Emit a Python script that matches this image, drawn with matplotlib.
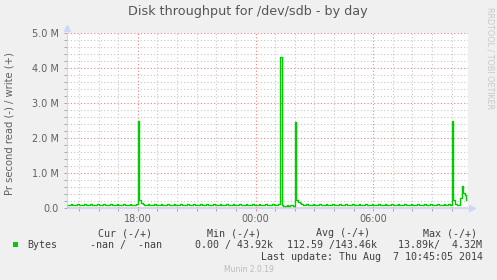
import matplotlib
matplotlib.use("Agg")
import matplotlib.pyplot as plt
import numpy as np

# munin "disk throughput" day graph, 5 minute samples from 14:25 to 10:45
start_hour = -9.5 - 5.0 / 60   # 14:25 the day before, hours relative to midnight
step_hour = 5.0 / 60

# write bytes per second, in millions (one row = one hour)
write_mb = [
    0.09, 0.09, 0.12, 0.09, 0.09, 0.09, 0.12, 0.09, 0.09, 0.08, 0.12, 0.09,   # 14:25
    0.09, 0.09, 0.12, 0.09, 0.09, 0.09, 0.12, 0.09, 0.09, 0.09, 0.12, 0.09,   # 15:25
    0.08, 0.09, 0.12, 0.09, 0.09, 0.09, 0.12, 0.09, 0.08, 0.09, 0.12, 0.09,   # 16:25
    0.09, 0.09, 0.12, 0.09, 0.09, 0.09, 0.12, 2.50, 0.24, 0.14, 0.12, 0.09,   # 17:25
    0.09, 0.12, 0.09, 0.09, 0.09, 0.12, 0.09, 0.09, 0.09, 0.12, 0.09, 0.09,   # 18:25
    0.08, 0.12, 0.09, 0.09, 0.09, 0.12, 0.09, 0.09, 0.09, 0.12, 0.09, 0.08,   # 19:25
    0.09, 0.12, 0.09, 0.09, 0.09, 0.12, 0.09, 0.09, 0.09, 0.12, 0.09, 0.09,   # 20:25
    0.09, 0.12, 0.09, 0.09, 0.08, 0.12, 0.09, 0.09, 0.09, 0.12, 0.09, 0.09,   # 21:25
    0.09, 0.12, 0.09, 0.09, 0.09, 0.12, 0.09, 0.08, 0.09, 0.12, 0.09, 0.09,   # 22:25
    0.09, 0.12, 0.09, 0.09, 0.09, 0.12, 0.09, 0.09, 0.09, 0.12, 0.09, 0.09,   # 23:25
    0.09, 0.12, 0.09, 0.09, 0.09, 0.12, 0.09, 0.09, 0.09, 0.12, 4.32, 0.08,   # 00:25
    0.05, 0.06, 0.09, 0.06, 0.08, 0.10, 0.07, 2.46, 0.23, 0.17, 0.13, 0.12,   # 01:25
    0.09, 0.09, 0.12, 0.09, 0.09, 0.09, 0.12, 0.09, 0.09, 0.09, 0.12, 0.09,   # 02:25
    0.08, 0.09, 0.12, 0.09, 0.09, 0.09, 0.12, 0.09, 0.09, 0.09, 0.12, 0.09,   # 03:25
    0.09, 0.09, 0.12, 0.09, 0.09, 0.08, 0.12, 0.09, 0.09, 0.09, 0.12, 0.09,   # 04:25
    0.09, 0.09, 0.12, 0.09, 0.09, 0.09, 0.12, 0.09, 0.09, 0.09, 0.12, 0.08,   # 05:25
    0.09, 0.09, 0.12, 0.09, 0.09, 0.09, 0.12, 0.09, 0.09, 0.09, 0.12, 0.09,   # 06:25
    0.09, 0.08, 0.12, 0.09, 0.09, 0.09, 0.12, 0.09, 0.09, 0.09, 0.12, 0.09,   # 07:25
    0.09, 0.09, 0.12, 0.09, 0.09, 0.09, 0.12, 0.09, 0.08, 0.09, 0.12, 0.09,   # 08:25
    0.09, 0.09, 0.12, 0.09, 0.09, 0.12, 0.09, 2.48, 0.22, 0.12, 0.10, 0.09,   # 09:25
    0.30, 0.62, 0.42, 0.38, 0.22,                                             # 10:25
]

y_ticks = [0, 1, 2, 3, 4, 5]
y_labels = ["0.0", "1.0 M", "2.0 M", "3.0 M", "4.0 M", "5.0 M"]
x_ticks = [-6, 0, 6]
x_labels = ["18:00", "00:00", "06:00"]

legend_head = [("Cur (-/+)", 98), ("Min (-/+)", 207), ("Avg (-/+)", 316), ("Max (-/+)", 423)]
legend_vals = [("-nan /  -nan", 90), ("0.00 / 43.92k", 195),
               ("112.59 /143.46k", 287), ("13.89k/  4.32M", 398)]

W, H = 497, 280
fontc = "#606060"
legc = "#404040"
green = "#00CC00"
axisc = "#CFD6F8"

fig = plt.figure(figsize=(W / 100, H / 100), dpi=100, facecolor="#F0F0F0")
ax = fig.add_axes([67 / W, 72 / H, 401 / W, 175 / H])
ax.set_facecolor("white")

t = start_hour + step_hour * np.arange(len(write_mb))
ax.step(t, write_mb, where="post", color=green, lw=1.0, zorder=5)
ax.axhline(0, color="#50506a", lw=1.0, zorder=6)

ax.set_xlim(-9.61, 10.83)
ax.set_ylim(0, 5.0)

ax.set_yticks(y_ticks)
ax.set_yticklabels(y_labels)
ax.set_yticks(np.arange(0, 5.01, 0.2), minor=True)
ax.set_xticks(x_ticks)
ax.set_xticklabels(x_labels)
ax.set_xticks(np.arange(-9, 11, 1), minor=True)

ax.grid(which="minor", color="#C8C8C8", ls=(0, (1, 2)), lw=0.8)
ax.grid(which="major", color="#F08080", ls=(0, (1, 2)), lw=0.8)
ax.set_axisbelow(True)

ax.tick_params(axis="both", which="both", colors="#999999", labelsize=7, length=2, width=0.6)
ax.tick_params(axis="both", which="major", labelcolor=fontc)
ax.tick_params(axis="x", which="major", colors="#F08080", labelcolor=fontc)
ax.tick_params(axis="y", pad=4)
ax.tick_params(axis="x", pad=2)

for s in ["top", "right"]:
    ax.spines[s].set_visible(False)
ax.spines["left"].set_color(axisc)
ax.spines["bottom"].set_color(axisc)

# rrdtool style arrows
ax.plot([0], [1.03], marker="^", color=axisc, ms=4, transform=ax.transAxes, clip_on=False)
ax.plot([1.01], [0], marker=">", color=axisc, ms=4, transform=ax.transAxes, clip_on=False)


def px(x, y):
    return x / W, 1 - y / H


fig.text(*px(248, 12), "Disk throughput for /dev/sdb - by day", ha="center", va="center",
         fontsize=9.2, color="#555555")
fig.text(*px(10, 124), "Pr second read (-) / write (+)", rotation=90, ha="center", va="center",
         fontsize=7.2, color=fontc)
fig.text(*px(490, 58), "RRDTOOL / TOBI OETIKER", rotation=270, ha="center", va="center",
         fontsize=5.8, color="#C8C8C8")

mono = "DejaVu Sans Mono"
for txt, x in legend_head:
    fig.text(*px(x, 233), txt, ha="left", va="center", family=mono, fontsize=7.2, color=legc)
fig.text(*px(27, 245), "Bytes", ha="left", va="center", family=mono, fontsize=7.2, color=legc)
for txt, x in legend_vals:
    fig.text(*px(x, 245), txt, ha="left", va="center", family=mono, fontsize=7.2, color=legc)
fig.patches.append(plt.Rectangle(px(13, 247), 5 / W, 5 / H, transform=fig.transFigure,
                                 facecolor=green, edgecolor="none"))
fig.text(*px(483, 257), "Last update: Thu Aug  7 10:45:05 2014", ha="right", va="center",
         family=mono, fontsize=7.2, color=legc)
fig.text(*px(249, 269), "Munin 2.0.19", ha="center", va="center", fontsize=5.5, color="#BBBBBB")

fig.savefig("out.png", dpi=100, facecolor=fig.get_facecolor())
